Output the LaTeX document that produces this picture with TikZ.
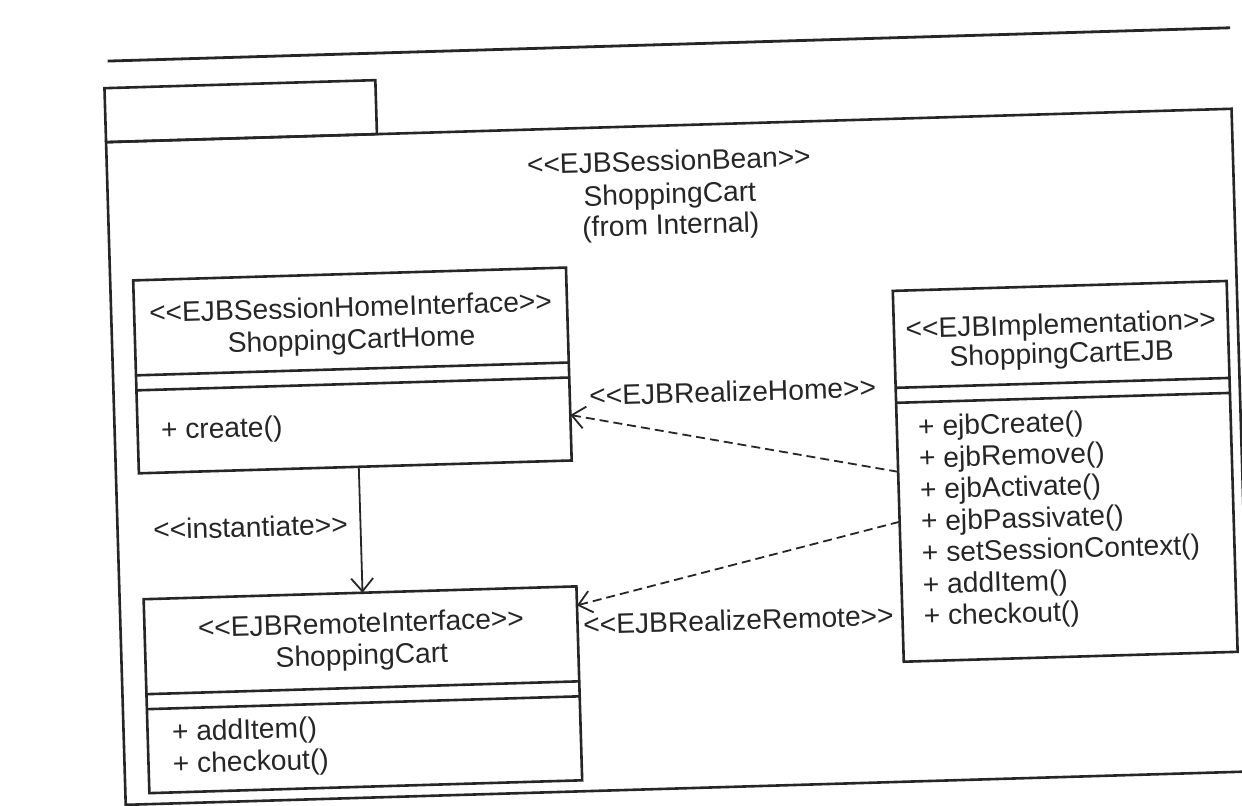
\documentclass[tikz,border=0pt]{standalone}
\usepackage{fontspec}
\setmainfont{Liberation Sans}[Ligatures=TeXOff]
\usetikzlibrary{arrows.meta,calc}
\begin{document}
\begin{tikzpicture}[x=0.5pt,y=-0.5pt,
  ink/.style={draw=black!85, line width=1.3pt},
  classbox/.style={ink, rectangle, inner sep=0pt, outer sep=0pt},
  lbl/.style={font=\fontsize{14.1pt}{16pt}\selectfont, text=black!85, inner sep=0pt, anchor=base},
  op/.style={lbl, anchor=base west},
  opentip/.style={-{Straight Barb[length=6.5pt,width=11pt,line width=0.9pt]}},
  dep/.style={draw=black!85, line width=0.9pt, dash pattern=on 4.5pt off 2.5pt, opentip},
  inst/.style={draw=black!85, line width=0.9pt, opentip}
]
\useasboundingbox (0,0) rectangle (1242,806);
\fill[white] (0,0) rectangle (1242,806);

\begin{scope}[rotate around={1.7:(621,403)}, transform shape]

  % rule above the figure
  \draw[ink, line width=1.4pt] (118,46) -- (1241,46);

  % package frame with its tab
  \node[classbox, minimum width=135.5pt, minimum height=27pt] (tab) at (249.5,100) {};
  \node[classbox, minimum width=563pt, minimum height=331.5pt] (pkg) at (677,458.5) {};
  \node[lbl] (pkgst) at (676,172) {<<EJBSessionBean>>};
  \node[lbl] (pkgname) at (676,205) {ShoppingCart};
  \node[lbl] (pkgfrom) at (676,236) {(from Internal)};

  % home interface
  \node[classbox, minimum width=216.5pt, minimum height=96.5pt] (home) at (353.5,362.5) {};
  \draw[ink] ($(home.north west)+(0,95)$) -- ($(home.north east)+(0,95)$);
  \draw[ink] ($(home.north west)+(0,110)$) -- ($(home.north east)+(0,110)$);
  \node[lbl] (homest) at ($(home.north)+(0,43)$) {<<EJBSessionHomeInterface>>};
  \node[lbl] (homename) at ($(home.north)+(0,75)$) {ShoppingCartHome};
  \node[op] (homeop1) at ($(home.north west)+(23,160)$) {+ create()};

  % remote interface
  \node[classbox, minimum width=216.5pt, minimum height=97pt] (remote) at (354.5,682) {};
  \draw[ink] ($(remote.north west)+(0,95)$) -- ($(remote.north east)+(0,95)$);
  \draw[ink] ($(remote.north west)+(0,110)$) -- ($(remote.north east)+(0,110)$);
  \node[lbl] (remst) at ($(remote.north)+(0,40)$) {<<EJBRemoteInterface>>};
  \node[lbl] (remname) at ($(remote.north)+(0,72)$) {ShoppingCart};
  \node[op] (remop1) at ($(remote.north west)+(24,143)$) {+ addItem()};
  \node[op] (remop2) at ($(remote.north west)+(24,175)$) {+ checkout()};

  % bean implementation
  \node[classbox, minimum width=167pt, minimum height=185.5pt] (ejb) at (1063,484.5) {};
  \draw[ink] ($(ejb.north west)+(0,97)$) -- ($(ejb.north east)+(0,97)$);
  \draw[ink] ($(ejb.north west)+(0,112)$) -- ($(ejb.north east)+(0,112)$);
  \node[lbl] (ejbst) at ($(ejb.north)+(0,48)$) {<<EJBImplementation>>};
  \node[lbl] (ejbname) at ($(ejb.north)+(0,77)$) {ShoppingCartEJB};
  \node[op] (ejbop1) at ($(ejb.north west)+(21,146)$) {+ ejbCreate()};
  \node[op] (ejbop2) at ($(ejb.north west)+(21,177.6)$) {+ ejbRemove()};
  \node[op] (ejbop3) at ($(ejb.north west)+(21,209.2)$) {+ ejbActivate()};
  \node[op] (ejbop4) at ($(ejb.north west)+(21,240.8)$) {+ ejbPassivate()};
  \node[op] (ejbop5) at ($(ejb.north west)+(21,272.4)$) {+ setSessionContext()};
  \node[op] (ejbop6) at ($(ejb.north west)+(21,304)$) {+ addItem()};
  \node[op] (ejbop7) at ($(ejb.north west)+(21,335.6)$) {+ checkout()};

  % dependencies
  \draw[inst] ($(home.south)+(3.5,0)$) -- ($(remote.north)+(2.5,0)$);
  \node[lbl] (instlbl) at (247,526) {<<instantiate>>};

  \draw[dep] ($(ejb.north west)+(0,181)$) -- ($(home.north east)+(0,147.5)$);
  \node[lbl] (homelbl) at (733,405) {<<EJBRealizeHome>>};

  \draw[dep] ($(ejb.north west)+(0,231)$) -- ($(remote.north east)+(0,19)$);
  \node[lbl] (remlbl) at (732,633.5) {<<EJBRealizeRemote>>};

\end{scope}
\end{tikzpicture}
\end{document}
